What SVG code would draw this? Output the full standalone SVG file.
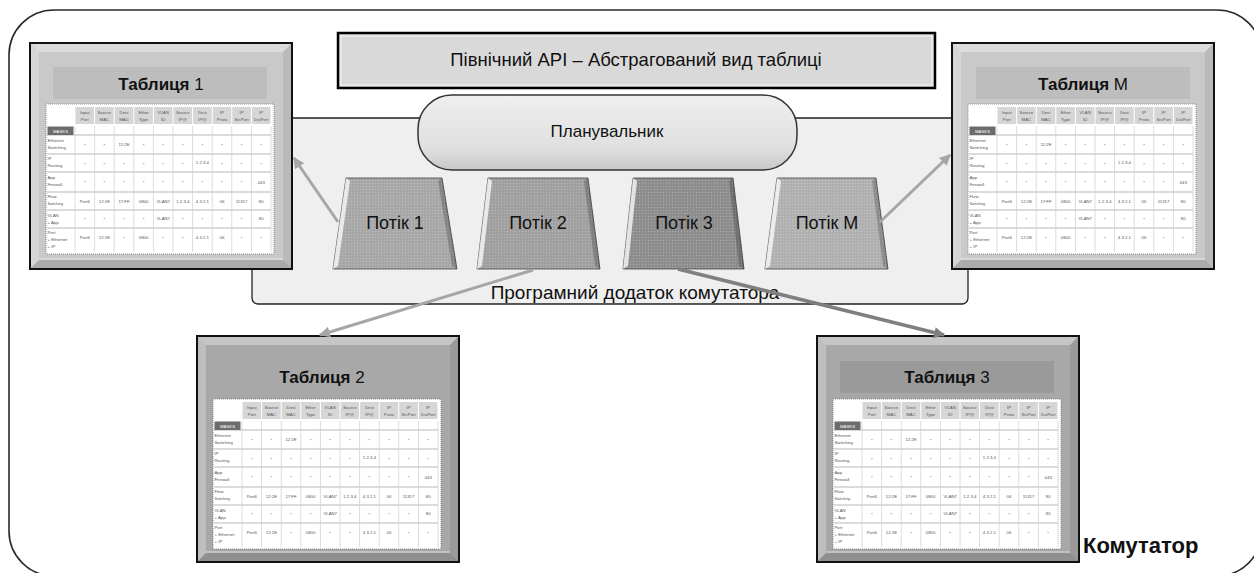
<svg xmlns="http://www.w3.org/2000/svg" xmlns:xlink="http://www.w3.org/1999/xlink" width="1254" height="573" viewBox="0 0 1254 573">
<style>
.lbl{font-family:"Liberation Sans",Arial,sans-serif;fill:#111}
.t{font-family:"Liberation Sans",Arial,sans-serif;font-size:4.3px;fill:#555;text-anchor:middle}
.tl{font-family:"Liberation Sans",Arial,sans-serif;font-size:4.3px;fill:#555}
.conn{fill:none;stroke:#a6a6a6;stroke-width:3}
.flow{stroke:#444;stroke-width:0.8}
</style>
<defs>
<pattern id="dots" width="3" height="3" patternUnits="userSpaceOnUse">
<rect x="0" y="0" width="1" height="1" fill="#fff" fill-opacity="0.22"/>
<rect x="1.5" y="1.5" width="1" height="1" fill="#000" fill-opacity="0.08"/>
</pattern>
<linearGradient id="pill" x1="0" y1="0" x2="0" y2="1">
<stop offset="0" stop-color="#efefef"/>
<stop offset="0.7" stop-color="#e0e0e0"/>
<stop offset="1" stop-color="#c8c8c8"/>
</linearGradient>
<marker id="ah" viewBox="0 0 10 10" refX="9" refY="5" markerWidth="12" markerHeight="11" markerUnits="userSpaceOnUse" orient="auto">
<path d="M0,0 L10,5 L0,10 z" fill="#a6a6a6"/>
</marker>
<marker id="ahd" viewBox="0 0 10 10" refX="9" refY="5" markerWidth="12" markerHeight="11" markerUnits="userSpaceOnUse" orient="auto">
<path d="M0,0 L10,5 L0,10 z" fill="#7f7f7f"/>
</marker>
<g id="bevel">
<polygon points="0,0 262,0 253,9 9,9" fill="#fff" fill-opacity="0.35"/>
<polygon points="0,0 9,9 9,217 0,226" fill="#fff" fill-opacity="0.25"/>
<polygon points="262,0 262,226 253,217 253,9" fill="#000" fill-opacity="0.08"/>
<polygon points="0,226 9,217 253,217 262,226" fill="#000" fill-opacity="0.15"/>
<line x1="9" y1="216" x2="253" y2="216" stroke="#fff" stroke-opacity="0.6" stroke-width="1.2"/>
<rect x="0" y="0" width="262" height="226" fill="none" stroke="#111" stroke-width="2"/>
</g>
<g id="grid">
<rect x="0" y="0" width="228" height="150" fill="#fff" stroke="#777" stroke-width="0.8" stroke-dasharray="1 1"/>
<g fill="#d6d6d6">
<rect x="29.5" y="3" width="18.6" height="17"/><rect x="49.1" y="3" width="18.6" height="17"/><rect x="68.7" y="3" width="18.6" height="17"/><rect x="88.3" y="3" width="18.6" height="17"/><rect x="107.9" y="3" width="18.6" height="17"/><rect x="127.5" y="3" width="18.6" height="17"/><rect x="147.1" y="3" width="18.6" height="17"/><rect x="166.7" y="3" width="18.6" height="17"/><rect x="186.3" y="3" width="18.6" height="17"/><rect x="205.9" y="3" width="18.6" height="17"/>
</g>
<path d="M29,22V148M48.6,22V148M68.2,22V148M87.8,22V148M107.4,22V148M127,22V148M146.6,22V148M166.2,22V148M185.8,22V148M205.4,22V148M225,22V148" stroke="#dcdcdc" stroke-width="1"/>
<path d="M1,31H225M1,50H225M1,68H225M1,88H225M1,106H225M1,124H225" stroke="#d0d0d0" stroke-width="1.5"/>
<rect x="1.5" y="22.5" width="26" height="8.5" fill="#6c6c6c"/>
<text class="t" x="14.5" y="28.5" style="fill:#fff">MASKS</text>
<text class="t"><tspan x="38.8" y="10">Input</tspan><tspan x="38.8" y="17">Port</tspan><tspan x="58.4" y="10">Source</tspan><tspan x="58.4" y="17">MAC</tspan><tspan x="78" y="10">Dest</tspan><tspan x="78" y="17">MAC</tspan><tspan x="97.6" y="10">Ether</tspan><tspan x="97.6" y="17">Type</tspan><tspan x="117.2" y="10">VLAN</tspan><tspan x="117.2" y="17">ID</tspan><tspan x="136.8" y="10">Source</tspan><tspan x="136.8" y="17">IP@</tspan><tspan x="156.4" y="10">Dest</tspan><tspan x="156.4" y="17">IP@</tspan><tspan x="176" y="10">IP</tspan><tspan x="176" y="17">Proto</tspan><tspan x="195.6" y="10">IP</tspan><tspan x="195.6" y="17">SrcPort</tspan><tspan x="215.2" y="10">IP</tspan><tspan x="215.2" y="17">DstPort</tspan></text>
<text class="tl"><tspan x="1.5" y="38">Ethernet</tspan><tspan x="1.5" y="45">Switching</tspan><tspan x="1.5" y="56">IP</tspan><tspan x="1.5" y="63">Routing</tspan><tspan x="1.5" y="75">App</tspan><tspan x="1.5" y="82">Firewall</tspan><tspan x="1.5" y="94">Flow</tspan><tspan x="1.5" y="101" style="font-size:3.6px">Switching</tspan><tspan x="1.5" y="113">VLAN</tspan><tspan x="1.5" y="120">+ App</tspan><tspan x="1.5" y="130">Port</tspan><tspan x="1.5" y="137">+ Ethernet</tspan><tspan x="1.5" y="144">+ IP</tspan></text>
<text class="t"><tspan x="38.8" y="43">*</tspan><tspan x="58.4" y="43">*</tspan><tspan x="78" y="42">12:2E</tspan><tspan x="97.6" y="43">*</tspan><tspan x="117.2" y="43">*</tspan><tspan x="136.8" y="43">*</tspan><tspan x="156.4" y="43">*</tspan><tspan x="176" y="43">*</tspan><tspan x="195.6" y="43">*</tspan><tspan x="215.2" y="43">*</tspan></text>
<text class="t"><tspan x="38.8" y="62">*</tspan><tspan x="58.4" y="62">*</tspan><tspan x="78" y="62">*</tspan><tspan x="97.6" y="62">*</tspan><tspan x="117.2" y="62">*</tspan><tspan x="136.8" y="62">*</tspan><tspan x="156.4" y="60">1.2.3.4</tspan><tspan x="176" y="62">*</tspan><tspan x="195.6" y="62">*</tspan><tspan x="215.2" y="62">*</tspan></text>
<text class="t"><tspan x="38.8" y="80">*</tspan><tspan x="58.4" y="80">*</tspan><tspan x="78" y="80">*</tspan><tspan x="97.6" y="80">*</tspan><tspan x="117.2" y="80">*</tspan><tspan x="136.8" y="80">*</tspan><tspan x="156.4" y="80">*</tspan><tspan x="176" y="80">*</tspan><tspan x="195.6" y="80">*</tspan><tspan x="215.2" y="80">443</tspan></text>
<text class="t"><tspan x="38.8" y="98.5">Port6</tspan><tspan x="58.4" y="98.5">12:2E</tspan><tspan x="78" y="98.5">17:FF</tspan><tspan x="97.6" y="98.5">0800</tspan><tspan x="117.2" y="98.5">VLAN7</tspan><tspan x="136.8" y="98.5">1.2.3.4</tspan><tspan x="156.4" y="98.5">4.3.2.1</tspan><tspan x="176" y="98.5">06</tspan><tspan x="195.6" y="98.5">11317</tspan><tspan x="215.2" y="98.5">80</tspan></text>
<text class="t"><tspan x="38.8" y="117">*</tspan><tspan x="58.4" y="117">*</tspan><tspan x="78" y="117">*</tspan><tspan x="97.6" y="117">*</tspan><tspan x="117.2" y="115.5">VLAN7</tspan><tspan x="136.8" y="117">*</tspan><tspan x="156.4" y="117">*</tspan><tspan x="176" y="117">*</tspan><tspan x="195.6" y="117">*</tspan><tspan x="215.2" y="115.5">80</tspan></text>
<text class="t"><tspan x="38.8" y="135">Port6</tspan><tspan x="58.4" y="135">12:2E</tspan><tspan x="78" y="136">*</tspan><tspan x="97.6" y="135">0800</tspan><tspan x="117.2" y="136">*</tspan><tspan x="136.8" y="136">*</tspan><tspan x="156.4" y="135">4.3.2.1</tspan><tspan x="176" y="135">06</tspan><tspan x="195.6" y="136">*</tspan><tspan x="215.2" y="136">*</tspan></text>
</g>
</defs>
<rect width="1254" height="573" fill="#fff"/>
<g id="switch">
<rect x="9" y="10" width="1253" height="566" rx="45" ry="45" fill="none" stroke="#2a2a2a" stroke-width="1.6"/>
<text class="lbl" x="1083" y="553" style="font-size:22px;font-weight:bold">Комутатор</text>
</g>
<g id="switch-app">
<rect x="252" y="118" width="716" height="186" rx="6" fill="#efefef" stroke="#222" stroke-width="1.3"/>
<text class="lbl" x="635" y="299" text-anchor="middle" style="font-size:19px">Програмний додаток комутатора</text>
</g>
<g id="api">
<rect x="338" y="33" width="597" height="55" fill="#d9d9d9" stroke="#000" stroke-width="2.5"/>
<rect x="341" y="36" width="591" height="49" fill="none" stroke="#f2f2f2" stroke-width="1.2"/>
<text class="lbl" x="636" y="66" text-anchor="middle" style="font-size:18.5px">Північний API – Абстрагований вид таблиці</text>
</g>
<g id="scheduler">
<rect x="418" y="95" width="379" height="75" rx="34" ry="34" fill="url(#pill)" stroke="#333" stroke-width="1.5"/>
<text class="lbl" x="607" y="137" text-anchor="middle" style="font-size:17px">Планувальник</text>
</g>
<g id="flow1">
<polygon class="flow" points="346,178 442,178 457,269 333,269" fill="#a9a9a9"/>
<polygon points="346,178 442,178 457,269 333,269" fill="url(#dots)"/>
<polygon points="346,178 350,181 338,266 333,269" fill="#fff" fill-opacity="0.75"/>
<polygon points="442,178 457,269 452,266 438,181" fill="#000" fill-opacity="0.2"/>
<text class="lbl" x="395" y="229" text-anchor="middle" style="font-size:18px">Потік 1</text>
</g>
<g id="flow2">
<polygon class="flow" points="488,178 588,178 600,269 477,269" fill="#a2a2a2"/>
<polygon points="488,178 588,178 600,269 477,269" fill="url(#dots)"/>
<polygon points="488,178 492,181 482,266 477,269" fill="#fff" fill-opacity="0.75"/>
<polygon points="588,178 600,269 595,266 584,181" fill="#000" fill-opacity="0.2"/>
<text class="lbl" x="538" y="229" text-anchor="middle" style="font-size:18px">Потік 2</text>
</g>
<g id="flow3">
<polygon class="flow" points="633,178 733,178 744,269 623,269" fill="#8f8f8f"/>
<polygon points="633,178 733,178 744,269 623,269" fill="url(#dots)"/>
<polygon points="633,178 637,181 628,266 623,269" fill="#fff" fill-opacity="0.75"/>
<polygon points="733,178 744,269 739,266 729,181" fill="#000" fill-opacity="0.2"/>
<text class="lbl" x="684" y="229" text-anchor="middle" style="font-size:18px">Потік 3</text>
</g>
<g id="flowM">
<polygon class="flow" points="777,178 876,178 888,269 765,269" fill="#b2b2b2"/>
<polygon points="777,178 876,178 888,269 765,269" fill="url(#dots)"/>
<polygon points="777,178 781,181 770,266 765,269" fill="#fff" fill-opacity="0.75"/>
<polygon points="876,178 888,269 883,266 872,181" fill="#000" fill-opacity="0.2"/>
<text class="lbl" x="827" y="229" text-anchor="middle" style="font-size:18px">Потік М</text>
</g>
<g id="table1">
<rect x="30" y="43" width="262" height="226" fill="#c9c9c9"/>
<use xlink:href="#bevel" x="30" y="43"/>
<rect x="53" y="67" width="214" height="32" fill="#bdbdbd"/>
<text class="lbl" x="161" y="90" text-anchor="middle" style="font-size:17px"><tspan font-weight="bold">Таблиця</tspan> 1</text>
<use xlink:href="#grid" x="46" y="104"/>
</g>
<g id="tableM">
<rect x="952" y="43" width="262" height="226" fill="#c9c9c9"/>
<use xlink:href="#bevel" x="952" y="43"/>
<rect x="976" y="67" width="214" height="32" fill="#bdbdbd"/>
<text class="lbl" x="1083" y="90" text-anchor="middle" style="font-size:17px"><tspan font-weight="bold">Таблиця</tspan> М</text>
<use xlink:href="#grid" x="968" y="104"/>
</g>
<g id="table2">
<rect x="197" y="336" width="262" height="226" fill="#a8a8a8"/>
<use xlink:href="#bevel" x="197" y="336"/>
<text class="lbl" x="322" y="383" text-anchor="middle" style="font-size:17px"><tspan font-weight="bold">Таблиця</tspan> 2</text>
<use xlink:href="#grid" x="213" y="399"/>
</g>
<g id="table3">
<rect x="817" y="336" width="262" height="226" fill="#a8a8a8"/>
<use xlink:href="#bevel" x="817" y="336"/>
<rect x="840" y="361" width="214" height="32" fill="#9a9a9a"/>
<text class="lbl" x="947" y="383" text-anchor="middle" style="font-size:17px"><tspan font-weight="bold">Таблиця</tspan> 3</text>
<use xlink:href="#grid" x="833" y="399"/>
</g>
<g id="connectors">
<line class="conn" x1="338" y1="222" x2="294" y2="158" marker-end="url(#ah)"/>
<line class="conn" x1="880" y1="222" x2="950" y2="155" marker-end="url(#ah)"/>
<line class="conn" x1="533" y1="270" x2="320" y2="335" marker-end="url(#ah)"/>
<line x1="678" y1="269" x2="944" y2="335" fill="none" stroke="#7f7f7f" stroke-width="3.5" marker-end="url(#ahd)"/>
</g>
</svg>
